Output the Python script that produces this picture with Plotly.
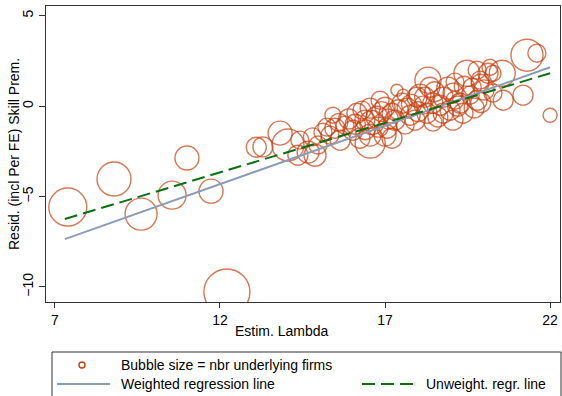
import plotly.graph_objects as go

# ---- data ----
lam = [7.39, 8.79, 9.61, 10.55, 11.0, 11.73, 12.21, 13.1, 13.3, 13.82, 14.06, 14.67, 14.88,
       15.12, 15.33, 15.42, 15.24, 15.48, 14.42, 14.36, 14.97, 16.15, 16.39, 16.55, 16.76,
       17.0, 17.36, 17.21, 17.52, 17.76, 17.97, 16.55, 16.79, 17.06, 17.21, 16.03, 16.24,
       15.79, 16.55, 15.64, 19.48, 20.12, 19.88, 19.64, 18.36, 18.06, 18.76, 18.45, 19.06,
       19.27, 19.79, 17.67, 18.27, 18.76, 19.36, 19.06, 18.45, 20.27, 17.55, 21.3, 21.6,
       20.55, 20.18, 20.27, 20.58, 21.18, 22.0, 19.79, 19.88, 17.3, 17.61, 17.91, 18.67,
       18.97, 19.12, 19.58, 18.15, 16.3, 16.85, 18.3, 19.12,
       15.9, 16.1, 16.6, 16.9, 17.1, 17.4, 17.8, 18.0, 18.2, 18.5, 18.9, 19.2, 19.4,
       19.7, 20.0, 16.4, 17.0, 15.6, 14.8, 18.6, 19.9]
resid = [-5.58, -4.03, -5.97, -4.92, -2.87, -4.70, -10.28, -2.27, -2.25, -1.49, -2.15, -2.54,
         -2.71, -1.44, -1.60, -0.50, -1.16, -1.22, -1.88, -2.71, -2.15, -0.39, -0.77, -0.11,
         -0.61, -0.06, 0.88, -0.39, 0.17, -0.50, 0.50, -1.60, -1.16, -1.22, -1.77, -1.33,
         -1.77, -1.05, -2.04, -1.88, 1.82, 1.82, 1.44, 1.05, 1.05, 0.61, 0.50, 0.17, 0.72,
         0.17, 0.33, -0.11, -0.39, -0.39, -0.39, -0.77, -0.88, 0.72, 0.61, 2.82, 2.93,
         1.82, 2.15, 1.82, 0.33, 0.61, -0.50, 1.99, 1.27, -0.77, -1.05, -0.77, 0.06,
         -0.22, 0.33, 0.61, 0.06, -0.22, 0.33, 1.44, 1.33,
         -0.7, -1.0, -0.9, -0.3, -0.7, -0.2, 0.1, -0.3, 0.5, 0.8, 1.0, 0.0, 1.1,
         -0.1, 0.9, -1.3, -1.6, -0.9, -1.7, -0.6, 0.2]
firms = [361, 289, 256, 196, 144, 144, 529, 100, 100, 144, 256, 121, 121,
         81, 81, 64, 81, 100, 81, 100, 81, 100, 100, 100, 121,
         100, 36, 100, 100, 100, 100, 121, 100, 100, 100, 100, 100,
         81, 225, 100, 169, 100, 81, 81, 100, 121, 100, 100, 100,
         100, 100, 100, 100, 100, 100, 100, 81, 81, 36, 256, 81,
         169, 64, 64, 100, 100, 49, 81, 81, 100, 81, 100, 100,
         100, 81, 81, 81, 81, 81, 169, 81,
         100, 100, 144, 100, 100, 100, 100, 100, 100, 100, 121, 100, 100,
         100, 100, 100, 121, 81, 81, 100, 100]

line_x = [7.3, 22.0]
weighted_y = [-7.35, 2.15]
unweighted_y = [-6.24, 1.82]

x_ticks = [7, 12, 17, 22]
y_ticks = [-10, -5, 0, 5]

BUB = "#C73F10"
WCOL = "#8A9DB5"
UCOL = "#0A6E12"
DASH = "13px,6px"
FONT = "Liberation Sans, Arial, sans-serif"

fig = go.Figure()
fig.add_trace(go.Scatter(
    x=lam, y=resid, mode="markers", showlegend=False,
    marker=dict(size=firms, sizemode="area", sizeref=0.5, color="rgba(0,0,0,0)",
                line=dict(color=BUB, width=1.4)),
))
fig.add_trace(go.Scatter(x=line_x, y=weighted_y, mode="lines", showlegend=False,
                         line=dict(color=WCOL, width=2)))
fig.add_trace(go.Scatter(x=line_x, y=unweighted_y, mode="lines", showlegend=False,
                         line=dict(color=UCOL, width=2, dash=DASH)))

W, H = 562, 396
L, R, T, B = 46, 2, 6, 94
pw, ph = W - L - R, H - T - B

def px(x):
    return (x - L) / pw

def py(y):
    return (H - B - y) / ph

tf = dict(size=14, color="black", family=FONT)
shapes = [
    dict(type="rect", xref="paper", yref="paper", x0=px(52), x1=px(561), y0=py(352), y1=py(400),
         line=dict(color="#333333", width=1), fillcolor="white", layer="below"),
    dict(type="circle", xref="paper", yref="paper", x0=px(79), x1=px(85), y0=py(362), y1=py(368),
         line=dict(color=BUB, width=1.4)),
    dict(type="line", xref="paper", yref="paper", x0=px(57), x1=px(110), y0=py(384), y1=py(384),
         line=dict(color=WCOL, width=2)),
    dict(type="line", xref="paper", yref="paper", x0=px(362), x1=px(416), y0=py(384), y1=py(384),
         line=dict(color=UCOL, width=2, dash=DASH)),
]
annotations = [
    dict(text="Bubble size = nbr underlying firms", xref="paper", yref="paper", x=px(119), y=py(365),
         xanchor="left", yanchor="middle", showarrow=False, font=tf),
    dict(text="Weighted regression line", xref="paper", yref="paper", x=px(119), y=py(384),
         xanchor="left", yanchor="middle", showarrow=False, font=tf),
    dict(text="Unweight. regr. line", xref="paper", yref="paper", x=px(424), y=py(384),
         xanchor="left", yanchor="middle", showarrow=False, font=tf),
    dict(text="Estim. Lambda", xref="paper", yref="paper", x=px(282), y=py(331),
         xanchor="center", yanchor="middle", showarrow=False, font=tf),
    dict(text="Resid. (incl Per FE) Skill Prem.", xref="paper", yref="paper", x=px(14), y=py(154),
         xanchor="center", yanchor="middle", showarrow=False, textangle=-90, font=tf),
]

fig.update_layout(
    width=W, height=H, margin=dict(l=L, r=R, t=T, b=B, autoexpand=False),
    paper_bgcolor="white", plot_bgcolor="white",
    font=dict(family=FONT, size=14, color="black"),
    shapes=shapes, annotations=annotations,
)
fig.update_xaxes(range=[6.73, 22.3], tickvals=x_ticks, ticks="outside", ticklen=5,
                 tickcolor="#333333", showgrid=False, zeroline=False, showline=True,
                 linecolor="#333333", linewidth=1, mirror=True, automargin=False,
                 tickfont=dict(size=14))
fig.update_yaxes(range=[-10.83, 5.54], tickvals=y_ticks, ticks="outside", ticklen=6,
                 tickcolor="#333333", showgrid=False, zeroline=False, showline=True,
                 linecolor="#333333", linewidth=1, mirror=True, tickangle=-90, automargin=False,
                 tickfont=dict(size=14))

fig.write_html("out.html", config={"displayModeBar": False},
               post_script="document.body.style.margin='0';document.body.style.overflow='hidden';")
